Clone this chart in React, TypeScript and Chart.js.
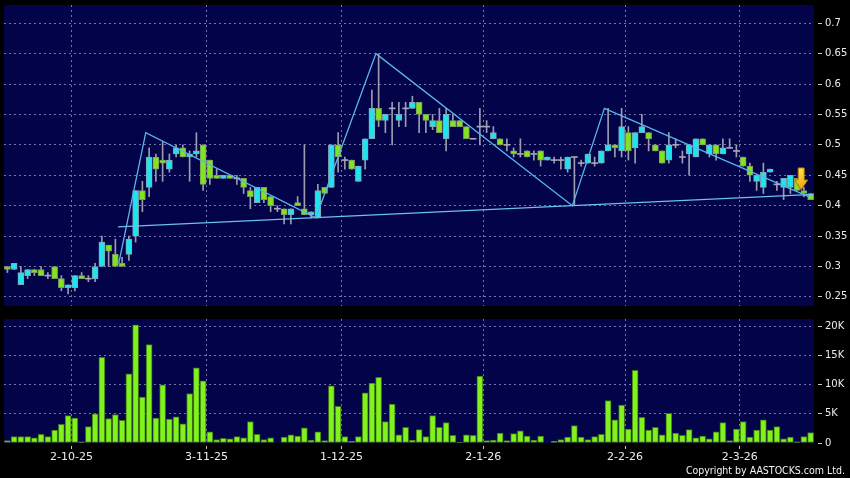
import React, { useEffect, useRef } from 'react';
import { Chart, registerables } from 'chart.js';
Chart.register(...registerables);

// ---------- DATA ----------
const dates = [
  '17-9-25','18-9-25','19-9-25','22-9-25','23-9-25','24-9-25','25-9-25','26-9-25','29-9-25','30-9-25',
  '2-10-25','3-10-25','6-10-25','8-10-25','9-10-25','10-10-25','13-10-25','14-10-25','15-10-25','16-10-25',
  '17-10-25','20-10-25','21-10-25','22-10-25','23-10-25','24-10-25','27-10-25','28-10-25','30-10-25','31-10-25',
  '3-11-25','4-11-25','5-11-25','6-11-25','7-11-25','10-11-25','11-11-25','12-11-25','13-11-25','14-11-25',
  '17-11-25','18-11-25','19-11-25','20-11-25','21-11-25','24-11-25','25-11-25','26-11-25','27-11-25','28-11-25',
  '1-12-25','2-12-25','3-12-25','4-12-25','5-12-25','8-12-25','9-12-25','10-12-25','11-12-25','12-12-25',
  '15-12-25','16-12-25','17-12-25','18-12-25','19-12-25','22-12-25','23-12-25','24-12-25','29-12-25','30-12-25',
  '31-12-25','2-1-26','5-1-26','6-1-26','7-1-26','8-1-26','9-1-26','12-1-26','13-1-26','14-1-26',
  '15-1-26','16-1-26','19-1-26','20-1-26','21-1-26','22-1-26','23-1-26','26-1-26','27-1-26','28-1-26',
  '29-1-26','30-1-26','2-2-26','3-2-26','4-2-26','5-2-26','6-2-26','9-2-26','10-2-26','11-2-26',
  '12-2-26','13-2-26','16-2-26','20-2-26','23-2-26','24-2-26','25-2-26','26-2-26','27-2-26','2-3-26',
  '3-3-26','4-3-26','5-3-26','6-3-26','9-3-26','10-3-26','11-3-26','12-3-26','13-3-26','16-3-26',
];

const xTickDates = ['2-10-25', '3-11-25', '1-12-25', '2-1-26', '2-2-26', '2-3-26'];

const opens = [
  0.30,0.295,0.27,0.285,0.295,0.295,0.285,0.30,0.28,0.265,
  0.265,0.285,0.28,0.28,0.30,0.335,0.32,0.305,0.32,0.35,
  0.425,0.43,0.48,0.475,0.46,0.485,0.495,0.48,0.485,0.50,
  0.475,0.45,0.445,0.45,0.445,0.445,0.425,0.405,0.43,0.415,
  0.395,0.395,0.385,0.405,0.395,0.385,0.38,0.43,0.43,0.50,
  0.475,0.475,0.44,0.475,0.51,0.56,0.54,0.56,0.54,0.56,
  0.56,0.57,0.55,0.53,0.54,0.51,0.54,0.54,0.53,0.51,
  0.53,0.53,0.51,0.51,0.50,0.49,0.485,0.49,0.485,0.49,
  0.475,0.475,0.475,0.46,0.48,0.47,0.47,0.47,0.47,0.49,
  0.50,0.49,0.52,0.495,0.52,0.52,0.50,0.49,0.475,0.50,
  0.48,0.485,0.48,0.51,0.485,0.50,0.485,0.495,0.49,0.48,
  0.465,0.44,0.43,0.455,0.435,0.43,0.43,0.445,0.425,0.42,
];
const highs = [
  0.30,0.305,0.30,0.295,0.295,0.30,0.29,0.30,0.285,0.27,
  0.285,0.29,0.285,0.305,0.35,0.335,0.345,0.315,0.35,0.425,
  0.44,0.495,0.485,0.505,0.485,0.50,0.50,0.49,0.52,0.50,
  0.475,0.46,0.45,0.45,0.45,0.445,0.43,0.43,0.43,0.415,
  0.40,0.395,0.395,0.415,0.50,0.39,0.435,0.43,0.50,0.52,
  0.48,0.475,0.465,0.51,0.59,0.65,0.55,0.57,0.57,0.57,
  0.58,0.57,0.55,0.55,0.56,0.56,0.55,0.54,0.53,0.51,
  0.56,0.54,0.53,0.51,0.51,0.495,0.51,0.49,0.49,0.49,
  0.48,0.48,0.48,0.48,0.48,0.475,0.485,0.48,0.49,0.56,
  0.50,0.56,0.53,0.52,0.55,0.52,0.50,0.49,0.52,0.51,
  0.49,0.50,0.51,0.51,0.50,0.50,0.51,0.51,0.50,0.48,
  0.47,0.45,0.47,0.46,0.44,0.445,0.45,0.445,0.43,0.42,
];
const lows = [
  0.29,0.295,0.27,0.28,0.285,0.285,0.28,0.28,0.26,0.255,
  0.26,0.28,0.275,0.275,0.30,0.30,0.30,0.30,0.31,0.34,
  0.39,0.415,0.44,0.44,0.455,0.48,0.48,0.44,0.48,0.425,
  0.435,0.445,0.445,0.445,0.435,0.42,0.395,0.405,0.405,0.39,
  0.39,0.37,0.37,0.40,0.385,0.38,0.38,0.42,0.43,0.455,
  0.46,0.46,0.44,0.46,0.51,0.53,0.52,0.50,0.53,0.53,
  0.56,0.52,0.52,0.525,0.52,0.49,0.53,0.53,0.51,0.51,
  0.50,0.52,0.51,0.50,0.49,0.48,0.48,0.48,0.475,0.465,
  0.475,0.47,0.46,0.455,0.40,0.465,0.47,0.465,0.47,0.49,
  0.48,0.48,0.475,0.47,0.52,0.49,0.49,0.47,0.47,0.495,
  0.47,0.45,0.48,0.50,0.48,0.475,0.485,0.495,0.48,0.465,
  0.44,0.425,0.42,0.455,0.425,0.41,0.42,0.425,0.415,0.41,
];
const closes = [
  0.295,0.305,0.29,0.295,0.29,0.285,0.285,0.28,0.265,0.27,
  0.285,0.28,0.28,0.30,0.34,0.325,0.30,0.30,0.345,0.425,
  0.41,0.48,0.46,0.47,0.475,0.495,0.48,0.485,0.49,0.435,
  0.445,0.445,0.45,0.445,0.445,0.43,0.415,0.43,0.41,0.40,
  0.395,0.385,0.395,0.40,0.385,0.39,0.425,0.42,0.50,0.48,
  0.475,0.46,0.465,0.51,0.56,0.54,0.55,0.56,0.55,0.56,
  0.57,0.55,0.54,0.54,0.52,0.55,0.53,0.53,0.51,0.51,
  0.53,0.53,0.52,0.50,0.50,0.485,0.485,0.48,0.485,0.475,
  0.48,0.475,0.475,0.48,0.48,0.47,0.485,0.47,0.49,0.50,
  0.495,0.53,0.49,0.52,0.53,0.51,0.49,0.47,0.50,0.50,
  0.48,0.50,0.51,0.50,0.50,0.485,0.495,0.495,0.49,0.465,
  0.45,0.45,0.455,0.46,0.435,0.445,0.45,0.425,0.42,0.41,
];

const volumes = [
  400,1100,1100,1100,900,1500,1100,2200,3200,4700,
  4300,200,2800,5000,14700,4200,4900,3900,11900,20300,
  7900,16900,4300,10000,4100,4500,3300,8500,12900,10700,
  1900,600,800,700,1100,900,3700,1500,600,900,
  0,1000,1400,1200,2600,500,1900,400,9800,6300,
  1100,300,1100,8600,10300,11300,3700,6700,1400,2700,
  500,2300,1100,4700,2700,3500,1300,100,1400,1300,
  11500,400,500,1700,400,1600,2100,1200,500,1200,
  0,300,600,1000,3000,1000,600,1100,1500,7300,
  4000,6500,2400,12500,4400,2200,2700,1400,5100,1700,
  1300,2300,900,1200,700,1900,3500,400,2400,3700,
  1000,2200,4000,2200,2800,700,1000,200,1100,1800,
];

const priceTicks = [0.25, 0.3, 0.35, 0.4, 0.45, 0.5, 0.55, 0.6, 0.65, 0.7];
const volumeTicks = [0, 5000, 10000, 15000, 20000];

// pattern lines (x in trading-day index units)
const zigzagX = [16.5, 20.5, 45.7, 54.6, 83.7, 88.45, 118.7];
const zigzagY = [0.305, 0.52, 0.38, 0.65, 0.40, 0.56, 0.415];
const supportX = [16.4, 119.4];
const supportY = [0.365, 0.4185];

const arrowX = 117.6;
const arrowTop = 0.462;
const arrowTip = 0.426;

// ---------- STYLE ----------
const NAVY = '#03034a';
const GRID = 'rgba(135,135,195,0.85)';
const TEXT = '#ececec';
const UP = '#1ee4f0';
const DOWN = '#82e41e';
const DOJI = '#a8a8b8';
const WICK = '#9c9cae';
const LINE = '#58b6ec';
const FONT = 'DejaVu Sans';

const bgPlugin = {
  id: 'navyBg',
  beforeDraw(chart: any) {
    const { ctx, chartArea: a } = chart;
    ctx.save();
    ctx.fillStyle = NAVY;
    ctx.fillRect(a.left, a.top, a.right - a.left, a.bottom - a.top);
    ctx.restore();
  },
};

const arrowPlugin = {
  id: 'arrow',
  afterDatasetsDraw(chart: any) {
    const xs = chart.scales.xl;
    const ys = chart.scales.y;
    if (!xs || !ys) return;
    const cx = xs.getPixelForValue(arrowX);
    const top = ys.getPixelForValue(arrowTop);
    const tip = ys.getPixelForValue(arrowTip);
    const h = tip - top;
    const headTop = top + h * 0.55;
    const ctx = chart.ctx;
    ctx.save();
    const g = ctx.createLinearGradient(0, top, 0, tip);
    g.addColorStop(0, '#ffe44a');
    g.addColorStop(1, '#f0a010');
    ctx.fillStyle = g;
    ctx.strokeStyle = '#b87800';
    ctx.lineWidth = 1;
    ctx.beginPath();
    ctx.moveTo(cx - 3, top);
    ctx.lineTo(cx + 3, top);
    ctx.lineTo(cx + 3, headTop);
    ctx.lineTo(cx + 6.5, headTop);
    ctx.lineTo(cx, tip);
    ctx.lineTo(cx - 6.5, headTop);
    ctx.lineTo(cx - 3, headTop);
    ctx.closePath();
    ctx.fill();
    ctx.stroke();
    ctx.restore();
  },
};

const zeroPad = (s: any) => {
  s.paddingTop = 0;
  s.paddingBottom = 0;
  s.paddingLeft = 0;
  s.paddingRight = 0;
};

const isTickIndex = (i: number) => i >= 0 && i < dates.length && xTickDates.includes(dates[i]);

export default function App() {
  const priceRef = useRef<HTMLCanvasElement>(null);
  const volRef = useRef<HTMLCanvasElement>(null);

  useEffect(() => {
    document.body.style.margin = '0';
    document.body.style.background = '#000';

    const bodies = opens.map((o, i) => {
      const c = closes[i];
      if (o === c) return [o - 0.0008, o + 0.0008];
      return [Math.min(o, c), Math.max(o, c)];
    });
    const bodyColors = opens.map((o, i) => (closes[i] > o ? UP : closes[i] < o ? DOWN : DOJI));
    const bodyBorders = opens.map((o, i) =>
      closes[i] > o ? '#7fa8b4' : closes[i] < o ? '#7f9a60' : DOJI
    );
    const bodyBorderW = opens.map((o, i) => (closes[i] === o ? 0 : 1));
    const wicks = lows.map((l, i) => [l, highs[i]]);

    const xGridColor = (ctx: any) => (isTickIndex(ctx.index) ? GRID : 'rgba(0,0,0,0)');

    const priceChart = new Chart(priceRef.current as HTMLCanvasElement, {
      type: 'bar',
      data: {
        labels: dates,
        datasets: [
          {
            type: 'line',
            data: zigzagX.map((x, i) => ({ x, y: zigzagY[i] })),
            xAxisID: 'xl',
            yAxisID: 'y',
            borderColor: LINE,
            borderWidth: 1.3,
            pointRadius: 0,
            tension: 0,
            order: 0,
          } as any,
          {
            type: 'line',
            data: supportX.map((x, i) => ({ x, y: supportY[i] })),
            xAxisID: 'xl',
            yAxisID: 'y',
            borderColor: '#6cc2ee',
            borderWidth: 1.3,
            pointRadius: 0,
            tension: 0,
            order: 0,
          } as any,
          {
            data: bodies as any,
            xAxisID: 'x',
            yAxisID: 'y',
            backgroundColor: bodyColors,
            borderColor: bodyBorders,
            borderWidth: bodyBorderW as any,
            borderSkipped: false,
            barThickness: 6,
            grouped: false,
            order: 1,
          } as any,
          {
            data: wicks as any,
            xAxisID: 'x',
            yAxisID: 'y',
            backgroundColor: WICK,
            borderWidth: 0,
            barThickness: 1,
            grouped: false,
            order: 2,
          } as any,
        ],
      },
      options: {
        animation: false,
        responsive: false,
        devicePixelRatio: 1,
        layout: { padding: { left: 4, right: 0, top: 5, bottom: 4 } },
        plugins: { legend: { display: false }, tooltip: { enabled: false } },
        scales: {
          x: {
            type: 'category',
            offset: true,
            border: { display: false, dash: [2, 3] },
            grid: { offset: true, color: xGridColor, drawTicks: false, lineWidth: 1 },
            ticks: { display: false, autoSkip: false },
            afterFit: (s: any) => { s.height = 0; zeroPad(s); },
          } as any,
          xl: {
            type: 'linear',
            display: false,
            min: -0.5,
            max: 119.5,
            offset: false,
            grid: { display: false },
          } as any,
          y: {
            position: 'right',
            min: 0.235,
            max: 0.73,
            beginAtZero: false,
            border: { display: false, dash: [2, 3] },
            grid: {
              color: GRID,
              tickLength: 8,
              tickColor: '#c8c8c8',
              tickBorderDash: [0, 4, 4, 0],
            },
            ticks: {
              color: TEXT,
              font: { family: FONT, size: 10 },
              padding: 3,
              callback: (v: any) => String(v),
            },
            afterBuildTicks: (s: any) => { s.ticks = priceTicks.map((v) => ({ value: v })); },
            afterFit: (s: any) => { s.width = 36; zeroPad(s); },
          } as any,
        },
      },
      plugins: [bgPlugin, arrowPlugin],
    } as any);

    const volChart = new Chart(volRef.current as HTMLCanvasElement, {
      type: 'bar',
      data: {
        labels: dates,
        datasets: [
          {
            data: volumes,
            backgroundColor: '#80f21e',
            borderColor: '#3f7414',
            borderWidth: 1,
            borderSkipped: false,
            barThickness: 6,
          } as any,
        ],
      },
      options: {
        animation: false,
        responsive: false,
        devicePixelRatio: 1,
        layout: { padding: { left: 4, right: 0, top: 9, bottom: 0 } },
        plugins: { legend: { display: false }, tooltip: { enabled: false } },
        scales: {
          x: {
            type: 'category',
            offset: true,
            border: { display: false, dash: [2, 3] },
            grid: {
              offset: true,
              color: xGridColor,
              tickLength: 6,
              tickColor: (ctx: any) => (isTickIndex(ctx.index) ? '#c8c8c8' : 'rgba(0,0,0,0)'),
              tickBorderDash: [0, 3, 3, 0],
            },
            ticks: {
              autoSkip: false,
              maxRotation: 0,
              minRotation: 0,
              color: TEXT,
              font: { family: FONT, size: 11 },
              padding: 2,
              labelOffset: -3.375,
              callback: (_v: any, i: number) => (isTickIndex(i) ? dates[i] : ''),
            },
            afterFit: (s: any) => { s.height = 35; zeroPad(s); },
          } as any,
          y: {
            position: 'right',
            min: 0,
            max: 21300,
            border: { display: false, dash: [2, 3] },
            grid: {
              color: (ctx: any) => (ctx.tick && ctx.tick.value === 0 ? 'rgba(0,0,0,0)' : GRID),
              tickLength: 8,
              tickColor: '#c8c8c8',
              tickBorderDash: [0, 4, 4, 0],
            },
            ticks: {
              color: TEXT,
              font: { family: FONT, size: 10 },
              padding: 3,
              callback: (v: any) => (v === 0 ? '0' : v / 1000 + 'K'),
            },
            afterBuildTicks: (s: any) => { s.ticks = volumeTicks.map((v) => ({ value: v })); },
            afterFit: (s: any) => { s.width = 36; zeroPad(s); },
          } as any,
        },
      },
      plugins: [bgPlugin],
    } as any);

    return () => {
      priceChart.destroy();
      volChart.destroy();
    };
  }, []);

  return (
    <div style={{ position: 'fixed', left: 0, top: 0, width: 850, height: 478, background: '#000', overflow: 'hidden' }}>
      <canvas
        ref={priceRef}
        width={850}
        height={310}
        style={{ position: 'absolute', left: 0, top: 0, width: 850, height: 310, display: 'block' }}
      />
      <canvas
        ref={volRef}
        width={850}
        height={168}
        style={{ position: 'absolute', left: 0, top: 310, width: 850, height: 168, display: 'block' }}
      />
      <div
        style={{
          position: 'absolute',
          right: 5,
          top: 464,
          color: '#f2f2f2',
          fontFamily: '"DejaVu Sans Condensed", "DejaVu Sans", sans-serif',
          fontStretch: 'condensed',
          fontSize: 10.5,
          lineHeight: '13px',
          whiteSpace: 'nowrap',
        }}
      >
        Copyright by AASTOCKS.com Ltd.
      </div>
    </div>
  );
}
